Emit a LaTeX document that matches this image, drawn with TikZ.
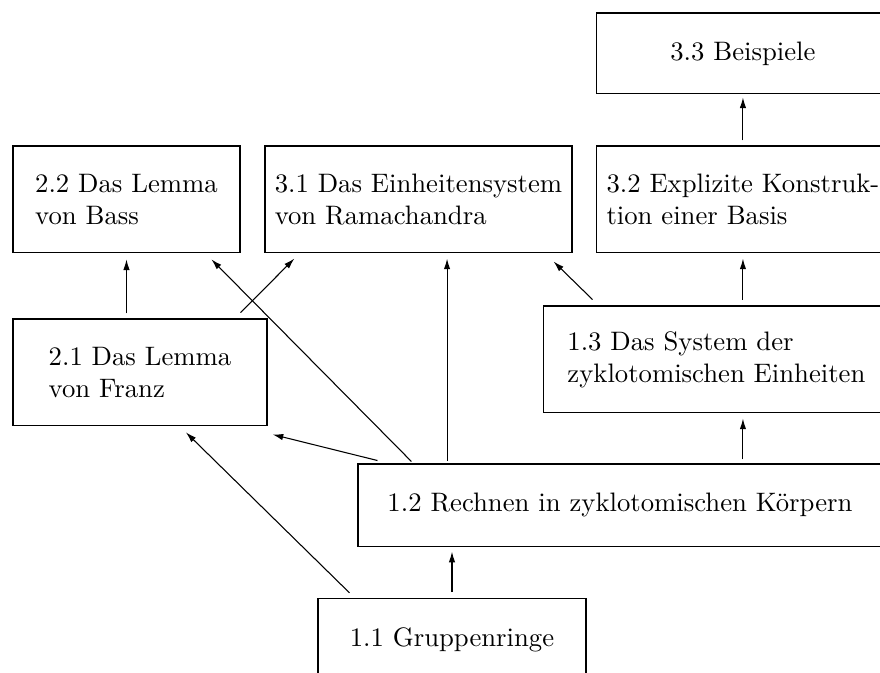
\documentclass[tikz,border=0pt]{standalone}
\usetikzlibrary{arrows.meta}

\begin{document}
\begin{tikzpicture}[
    abschnitt/.style={draw, rectangle, align=left, inner sep=0pt},
    hoch/.style={minimum height=1.408cm},
    flach/.style={minimum height=1.08cm},
    pfeil/.style={-{Latex[length=4pt,width=2.4pt]}}
  ]
    \useasboundingbox (0,0) rectangle (11.584,8.859);

    % Kapitel 3
    \node[abschnitt, minimum width=3.844cm, minimum height=1.066cm] (n33) at (9.780, 8.155) {3.3 Beispiele};
    \node[abschnitt, hoch, minimum width=3.844cm] (n32) at (9.780, 6.233) {3.2 Explizite Konstruk-\\tion einer Basis};
    \node[abschnitt, hoch, minimum width=4.041cm] (n31) at (5.509, 6.233) {3.1 Das Einheitensystem\\von Ramachandra};

    % Kapitel 2
    \node[abschnitt, hoch, minimum width=2.988cm] (n22) at (1.665, 6.233) {2.2 Das Lemma\\von Bass};
    \node[abschnitt, hoch, minimum width=3.343cm] (n21) at (1.843, 3.956) {2.1 Das Lemma\\von Franz};

    % Kapitel 1
    \node[abschnitt, hoch, minimum width=4.541cm] (n13) at (9.431, 4.127) {1.3 Das System der\\zyklotomischen Einheiten};
    \node[abschnitt, flach, minimum width=6.897cm] (n12) at (8.161, 2.211) {1.2 Rechnen in zyklotomischen K\"orpern};
    \node[abschnitt, flach, minimum width=3.528cm] (n11) at (5.950, 0.441) {1.1 Gruppenringe};

    \coordinate (k31) at ([xshift=10.7pt]n31.south);

    % Abhaengigkeiten
    \draw[pfeil] ([yshift=1.9pt]n32.north) -- ([yshift=-1.1pt]n33.south);
    \draw[pfeil] ([yshift=2.2pt]n32.south |- n13.north) -- ([yshift=-1.9pt]n32.south);
    \draw[pfeil] ([yshift=1.5pt]n32.south |- n12.north) -- ([yshift=-1.9pt]n32.south |- n13.south);
    \draw[pfeil] ([yshift=2.2pt]n11.north) -- ([yshift=-1.9pt]n11.north |- n12.south);
    \draw[pfeil] ([yshift=1.1pt]k31 |- n12.north) -- ([yshift=-1.9pt]k31);
    \draw[pfeil] ([xshift=20.2pt,yshift=0.75pt]n12.north west) -- ([xshift=-10.9pt,yshift=-2.2pt]n22.south east);
    \draw[pfeil] ([xshift=7.5pt,yshift=1.1pt]n12.north west) -- ([xshift=1.9pt,yshift=-3pt]n21.south east);
    \draw[pfeil] ([xshift=12pt,yshift=1.9pt]n11.north west) -- ([xshift=17.2pt,yshift=-2.2pt]n21.south);
    \draw[pfeil] ([xshift=18.4pt,yshift=2.2pt]n13.north west) -- ([xshift=-7.1pt,yshift=-3pt]n31.south east);
    \draw[pfeil] ([yshift=1.9pt]n22.south |- n21.north) -- ([yshift=-2.2pt]n22.south);
    \draw[pfeil] ([xshift=-10.1pt,yshift=2.2pt]n21.north east) -- ([xshift=11.2pt,yshift=-1.9pt]n31.south west);

\end{tikzpicture}
\end{document}
